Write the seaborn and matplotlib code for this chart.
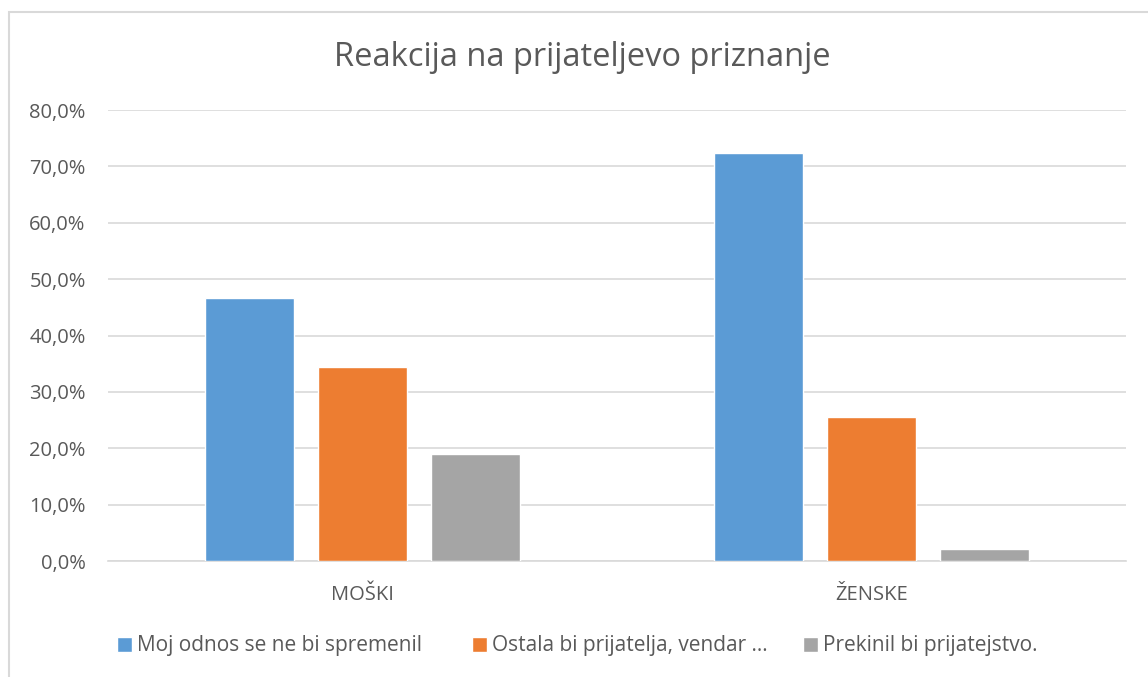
import pandas as pd
import matplotlib.pyplot as plt
import seaborn as sns
from matplotlib.ticker import FuncFormatter
from matplotlib.patches import Rectangle

# podatki, odčitani z grafa (v %)
spol = ["MOŠKI", "ŽENSKE"]
odgovori = ["Moj odnos se ne bi spremenil", "Ostala bi prijatelja, vendar ...", "Prekinil bi prijatejstvo."]
nespremenjen = [46.6, 72.3]
ostala = [34.5, 25.5]
prekinil = [18.9, 2.1]
barve = ["#5B9BD5", "#ED7D31", "#A5A5A5"]

rows = []
for odg, vals in zip(odgovori, [nespremenjen, ostala, prekinil]):
    for s, v in zip(spol, vals):
        rows.append({"spol": s, "odgovor": odg, "delez": v})
df = pd.DataFrame(rows)

sns.set_style("white")
plt.rcParams["font.family"] = ["Open Sans", "DejaVu Sans"]
txt = "#595959"
grid = "#D9D9D9"

fig = plt.figure(figsize=(11.48, 6.77), dpi=100)
ax = fig.add_axes([0.094, 0.1713, 0.887, 0.6662])

sns.barplot(data=df, x="spol", y="delez", hue="odgovor", hue_order=odgovori,
            palette=barve, width=0.665, gap=0.213, saturation=1, ax=ax, zorder=3)

ax.set_ylim(0, 80)
ax.set_xlim(-0.5, 1.5)
ax.set_yticks(range(0, 81, 10))
ax.yaxis.set_major_formatter(FuncFormatter(lambda v, p: f"{v:.1f}%".replace(".", ",")))
ax.grid(axis="y", color=grid, linewidth=1.2, zorder=0)
for s in ["top", "right", "left"]:
    ax.spines[s].set_visible(False)
ax.spines["bottom"].set_color(grid)
ax.spines["bottom"].set_linewidth(1.2)
ax.tick_params(length=0, labelsize=14.5, colors=txt)
ax.tick_params(axis="x", pad=17)
ax.tick_params(axis="y", pad=16)
ax.set_xlabel("")
ax.set_ylabel("")

fig.text(582 / 1148, 1 - 57 / 677, "Reakcija na prijateljevo priznanje", ha="center", va="center",
         fontsize=23.5, color=txt)

# legenda - vsak vnos posebej, kot v Excelu
h, l = ax.get_legend_handles_labels()
ax.legend_.remove()
for hx, lx, x0 in zip(h, l, [117, 472, 803]):
    leg = fig.legend([hx], [lx], loc="center left", bbox_to_anchor=(x0 / 1148, 1 - 646 / 677),
                     frameon=False, fontsize=15, handlelength=0.7, handleheight=0.7,
                     handletextpad=0.25, borderpad=0, borderaxespad=0)
    for t in leg.get_texts():
        t.set_color(txt)

# okvir grafikona
fig.patches.append(Rectangle((8.5 / 1148, -0.1), 1.2, 1 - 11.5 / 677 + 0.1,
                             transform=fig.transFigure, fill=False,
                             edgecolor=grid, linewidth=1.5))

fig.savefig("out.png", dpi=100, facecolor="white")
